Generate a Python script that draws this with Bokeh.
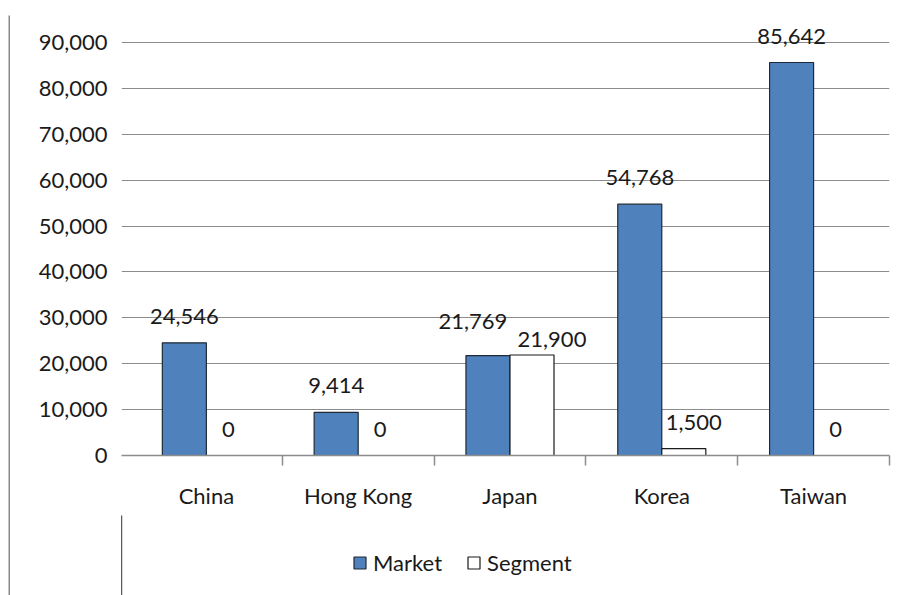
from bokeh.plotting import figure
from bokeh.models import (ColumnDataSource, FixedTicker, Legend,
                          LegendItem, NumeralTickFormatter, Range1d, Spacer)
from bokeh.layouts import column, row
from bokeh.transform import dodge
from bokeh.core.properties import value
from bokeh.embed import file_html
from bokeh.resources import INLINE

categories = ["China", "Hong Kong", "Japan", "Korea", "Taiwan"]
market = [24546, 9414, 21769, 54768, 85642]
segment = [0, 0, 21900, 1500, 0]
series_names = ["Market", "Segment"]
y_ticks = [0, 10000, 20000, 30000, 40000, 50000, 60000, 70000, 80000, 90000]

# pixel nudges for labels that the original moved apart to avoid overlap
market_dx = [0, 0, -15, 0, 0]
market_dy = [0, 0, -8, 0, 0]
segment_dx = [0, 0, 20, 10, 0]
segment_dy = [0, 0, 11, 0, 0]

FONT = "Lato"
TXT = "#1a1a1a"
BLUE = "#4F81BD"
GRID = "#8c8c8c"
FRAME_GRAY = "#8a8a8a"

centers = [i + 0.5 for i in range(len(categories))]
bw = 0.29
base_off = -26.5

src = ColumnDataSource(dict(
    x=centers,
    market=market,
    segment=segment,
    mlab=[f"{v:,}" for v in market],
    slab=[f"{v:,}" for v in segment],
    mdx=market_dx,
    mdy=[base_off + d for d in market_dy],
    sdx=segment_dx,
    sdy=[base_off + d for d in segment_dy],
))

market_style = dict(fill_color=BLUE, line_color="#1f2a36", line_width=1.2)
segment_style = dict(fill_color="white", line_color="#1a1a1a", line_width=1.2)

p = figure(width=894, height=500, output_backend="svg", toolbar_location=None,
           x_range=Range1d(-0.059, 5.0), y_range=Range1d(0, 94800),
           min_border_left=111, min_border_right=15, min_border_top=5,
           min_border_bottom=60)
p.outline_line_color = None
p.background_fill_color = "white"
p.border_fill_color = "white"

p.vbar(x=dodge("x", -bw / 2, range=p.x_range), top="market", width=bw,
       source=src, **market_style)
p.vbar(x=dodge("x", bw / 2, range=p.x_range), top="segment", width=bw,
       source=src, **segment_style)

p.text(x=dodge("x", -bw / 2, range=p.x_range), y="market", text="mlab", source=src,
       x_offset="mdx", y_offset="mdy", text_align="center", text_baseline="middle",
       text_font=value(FONT), text_font_size="22px", text_color=TXT)
p.text(x=dodge("x", bw / 2, range=p.x_range), y="segment", text="slab", source=src,
       x_offset="sdx", y_offset="sdy", text_align="center", text_baseline="middle",
       text_font=value(FONT), text_font_size="22px", text_color=TXT)

# y axis
yax = p.yaxis[0]
yax.ticker = FixedTicker(ticks=y_ticks)
yax.formatter = NumeralTickFormatter(format="0,0")
yax.axis_line_color = None
yax.major_tick_line_color = None
yax.minor_tick_line_color = None
yax.major_label_standoff = 8
yax.major_label_text_font = FONT
yax.major_label_text_font_size = "22px"
yax.major_label_text_color = TXT

# x axis
xax = p.xaxis[0]
xax.ticker = FixedTicker(ticks=centers, minor_ticks=[1, 2, 3, 4, 5])
xax.major_label_overrides = {c: n for c, n in zip(centers, categories)}
xax.major_tick_line_color = None
xax.major_tick_out = 0
xax.major_tick_in = 0
xax.minor_tick_line_color = GRID
xax.minor_tick_out = 10
xax.minor_tick_in = 0
xax.minor_tick_line_width = 1.5
xax.axis_line_color = GRID
xax.axis_line_width = 1.5
xax.major_label_standoff = 16
xax.major_label_text_font = FONT
xax.major_label_text_font_size = "22px"
xax.major_label_text_color = TXT

p.xgrid.visible = False
p.ygrid.ticker = FixedTicker(ticks=y_ticks)
p.ygrid.grid_line_color = GRID
p.ygrid.grid_line_width = 1.2

# legend strip below the chart (its glyph renderers sit outside the visible range)
pl = figure(width=894, height=80, output_backend="svg", toolbar_location=None,
            min_border=0, x_axis_location=None, y_axis_location=None,
            x_range=Range1d(0, 1), y_range=Range1d(0, 1))
pl.outline_line_color = None
pl.grid.visible = False
pl.background_fill_color = "white"
pl.border_fill_color = "white"
lr1 = pl.vbar(x=[-5], top=[1], width=0.1, **market_style)
lr2 = pl.vbar(x=[-5], top=[1], width=0.1, **segment_style)

legend = Legend(items=[LegendItem(label=series_names[0], renderers=[lr1]),
                       LegendItem(label=series_names[1], renderers=[lr2])],
                orientation="horizontal", location=(231, 19),
                border_line_alpha=0, background_fill_alpha=0, padding=0,
                spacing=24, label_standoff=6, glyph_width=15, glyph_height=15,
                label_text_font=FONT, label_text_font_size="22px",
                label_text_color=TXT, margin=0)
pl.add_layout(legend)


def rule(w, h):
    f = figure(width=w, height=h, output_backend="svg", toolbar_location=None,
               min_border=0, x_axis_location=None, y_axis_location=None)
    f.outline_line_color = None
    f.grid.visible = False
    f.border_fill_color = FRAME_GRAY
    f.background_fill_color = FRAME_GRAY
    return f


layout = column(
    Spacer(width=10, height=13),
    row(Spacer(width=8, height=2), rule(896, 2)),
    row(Spacer(width=8, height=580), rule(2, 580), column(p, pl)),
)

open("out.html", "w").write(file_html(layout, INLINE))
